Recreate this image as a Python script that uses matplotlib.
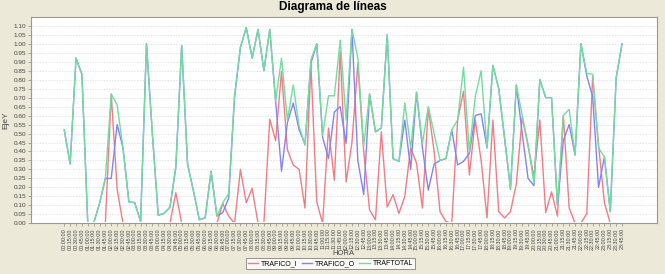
import numpy as np
import matplotlib
matplotlib.use("Agg")
import matplotlib.pyplot as plt
from matplotlib.patches import Rectangle

plt.rcParams["font.family"] = ["Liberation Sans", "DejaVu Sans"]

# Horas (intervalos de 15 minutos)
horas = ["%02d:%02d:00" % (h, m) for h in range(24) for m in (0, 15, 30, 45)]

traftotal = [0.52, 0.33, 0.92, 0.83, 0.00, 0.00, 0.11, 0.25, 0.72, 0.66,
             0.42, 0.12, 0.115, 0.01, 1.00, 0.50, 0.045, 0.055, 0.09, 0.32,
             0.99, 0.33, 0.18, 0.02, 0.03, 0.29, 0.04, 0.115, 0.165, 0.71,
             0.98, 1.09, 0.92, 1.08, 0.85, 1.08, 0.68, 0.92, 0.575, 0.77,
             0.54, 0.435, 0.91, 1.00, 0.49, 0.71, 0.71, 1.02, 0.575, 1.08,
             0.92, 0.43, 0.72, 0.51, 0.53, 1.05, 0.36, 0.345, 0.67, 0.42,
             0.73, 0.445, 0.65, 0.50, 0.35, 0.36, 0.52, 0.575, 0.87, 0.40,
             0.705, 0.85, 0.42, 0.88, 0.75, 0.48, 0.195, 0.77, 0.60, 0.44,
             0.22, 0.80, 0.70, 0.70, 0.10, 0.60, 0.635, 0.38, 1.00, 0.835,
             0.83, 0.42, 0.37, 0.065, 0.81, 1.00]

trafico_o = [0.52, 0.33, 0.92, 0.83, 0.00, 0.00, 0.11, 0.25, 0.25, 0.55,
             0.42, 0.12, 0.115, 0.01, 1.00, 0.50, 0.045, 0.055, 0.09, 0.31,
             0.99, 0.33, 0.18, 0.02, 0.03, 0.29, 0.04, 0.06, 0.14, 0.70,
             0.98, 1.09, 0.92, 1.08, 0.85, 1.08, 0.68, 0.29, 0.56, 0.67,
             0.52, 0.44, 0.89, 1.00, 0.48, 0.36, 0.62, 0.65, 0.445, 1.08,
             0.35, 0.16, 0.72, 0.51, 0.53, 1.05, 0.36, 0.345, 0.575, 0.30,
             0.73, 0.42, 0.185, 0.33, 0.35, 0.36, 0.52, 0.325, 0.345, 0.39,
             0.60, 0.61, 0.42, 0.88, 0.75, 0.47, 0.19, 0.77, 0.50, 0.25,
             0.21, 0.80, 0.70, 0.70, 0.10, 0.46, 0.55, 0.38, 1.00, 0.82,
             0.705, 0.20, 0.37, 0.065, 0.81, 1.00]

trafico_i = [0.00, 0.00, 0.00, 0.00, 0.00, 0.00, 0.00, 0.00, 0.72, 0.19,
             0.00, 0.00, 0.00, 0.00, 0.00, 0.00, 0.00, 0.00, 0.00, 0.17,
             0.00, 0.00, 0.00, 0.00, 0.00, 0.00, 0.00, 0.11, 0.04, 0.00,
             0.30, 0.115, 0.195, 0.00, 0.00, 0.58, 0.46, 0.845, 0.41, 0.325,
             0.30, 0.085, 0.89, 0.12, 0.00, 0.53, 0.24, 0.955, 0.23, 0.45,
             0.89, 0.40, 0.075, 0.02, 0.51, 0.09, 0.16, 0.055, 0.15, 0.42,
             0.335, 0.085, 0.64, 0.40, 0.065, 0.01, 0.00, 0.575, 0.735, 0.27,
             0.575, 0.35, 0.03, 0.575, 0.065, 0.03, 0.065, 0.22, 0.59, 0.43,
             0.26, 0.575, 0.06, 0.175, 0.04, 0.60, 0.085, 0.00, 0.00, 0.055,
             0.82, 0.435, 0.115, 0.00, 0.00, 0.00]

bg = "#ECE9D8"
fig = plt.figure(figsize=(6.65, 2.74), dpi=100, facecolor=bg)
ax = fig.add_axes([0.0466, 0.185, 0.9414, 0.753])
ax.set_facecolor("white")

ax.set_xlim(-5.67, 100.96)
ax.set_ylim(0, 1.149)

# lines sitting on zero are hidden under the axis, as in the original
clip = Rectangle((-10, 0.007), 120, 2, transform=ax.transData,
                 facecolor="none", edgecolor="none")
ax.add_patch(clip)

x = np.arange(len(horas))
for serie, col, lab in [(trafico_i, "#F07C86", "TRAFICO_I"),
                        (trafico_o, "#8484F0", "TRAFICO_O"),
                        (traftotal, "#72DC9E", "TRAFTOTAL")]:
    ln, = ax.plot(x, serie, color=col, lw=1.0, label=lab)
    ln.set_clip_path(clip)

yt = np.arange(0, 1.1001, 0.05)
ax.set_yticks(yt)
ax.set_yticklabels(["%.2f" % v for v in yt], fontsize=4.6, color="#444444")
ax.set_xticks(x)
ax.set_xticklabels(horas, rotation=90, fontsize=3.9, color="#444444")
ax.tick_params(axis="both", length=2, width=0.5, color="#888888", pad=1.5)

ax.yaxis.grid(True, color="#D8D8D8", lw=0.5, linestyle=(0, (2, 2)))
ax.set_axisbelow(True)
for s in ax.spines.values():
    s.set_color("#999999")
    s.set_linewidth(0.8)

ax.set_ylabel("EjeY", fontsize=6, color="#444444", labelpad=3)
fig.text(0.517, 0.073, "HORA", fontsize=5.5, color="#444444",
         ha="center", va="center")
fig.suptitle("Diagrama de líneas", fontsize=8.5, fontweight="bold", y=0.995)

leg = fig.legend(loc="lower center", bbox_to_anchor=(0.497, 0.005), ncol=3,
                 fontsize=5, frameon=True, fancybox=False, handlelength=1.5,
                 handletextpad=0.4, columnspacing=0.6, borderpad=0.3)
leg.get_frame().set_edgecolor("#666666")
leg.get_frame().set_linewidth(0.6)

fig.savefig("out.png", dpi=100, facecolor=bg)
